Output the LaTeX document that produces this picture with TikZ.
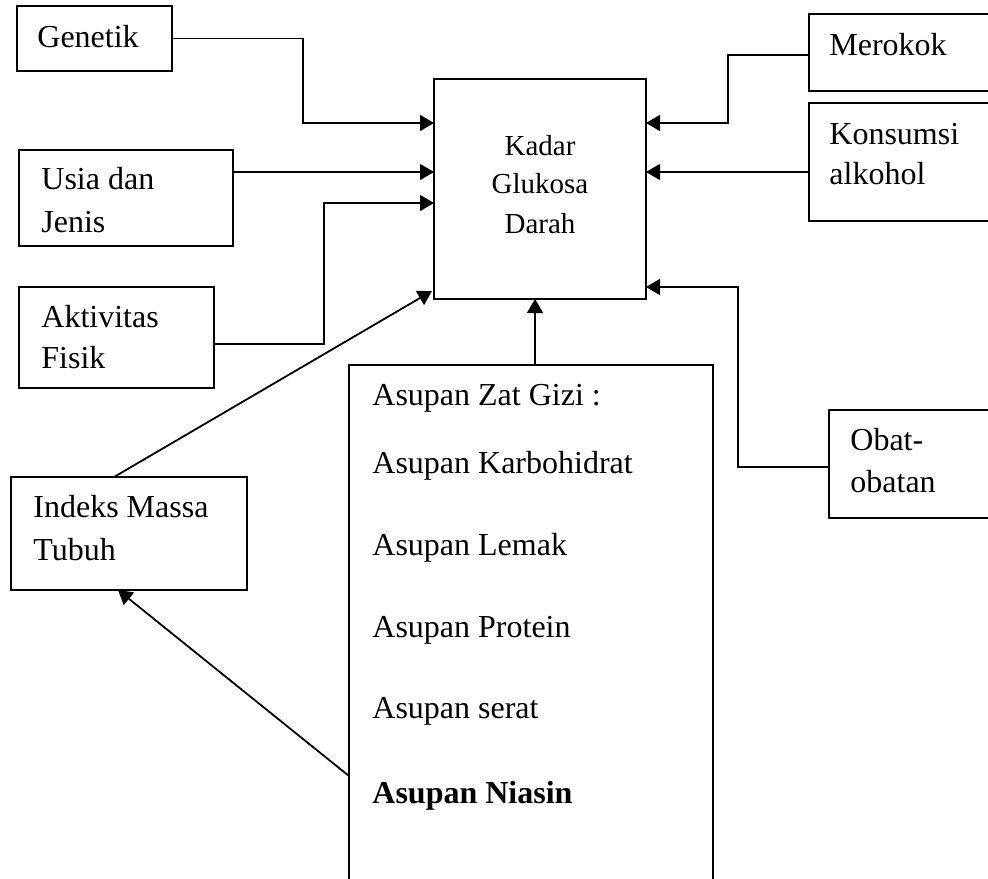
\documentclass[tikz,border=0pt]{standalone}
\usepackage{fontspec}
\setmainfont{Liberation Serif}
\usetikzlibrary{arrows.meta,positioning}
\tikzset{box/.style={draw,line width=0.9pt,inner sep=0pt,outer sep=0pt}}
\tikzset{txt/.style={anchor=base west,inner sep=0pt,font=\fontsize{16}{19}\selectfont}}
\tikzset{arr/.style={line width=0.9pt,-{Triangle[length=7pt,width=8pt]}}}

\begin{document}
\begin{tikzpicture}[x=0.5pt,y=-0.5pt]
\clip (0,0) rectangle (988,878);

% boxes
\node[box,minimum width=77.5pt,minimum height=32.5pt] (genetik) at (94.5,38.5) {};
\node[box,minimum width=107pt,minimum height=48pt] (usia) at (126,198) {};
\node[box,minimum width=97.5pt,minimum height=50.5pt] (aktivitas) at (116.5,337.5) {};
\node[box,minimum width=118pt,minimum height=56.5pt] (imt) at (129,533.5) {};
\node[box,minimum width=106pt,minimum height=110pt] (kadar) at (540,189) {};
\node[box,minimum width=95.5pt,minimum height=38.5pt] (merokok) at (904.5,52.5) {};
\node[box,minimum width=95.5pt,minimum height=59pt] (konsumsi) at (904.5,162) {};
\node[box,minimum width=85.5pt,minimum height=54pt] (obat) at (914.5,464) {};
\node[box,minimum width=182pt,minimum height=267.5pt] (asupan) at (531,632.5) {};

% texts
\node[txt] (tgenetik) at (37,47) {Genetik};
\node[txt] (tusia1) at (41,189) {Usia dan};
\node[txt] (tusia2) at (41,232) {Jenis};
\node[txt] (takt1) at (41,327) {Aktivitas};
\node[txt] (takt2) at (41,368) {Fisik};
\node[txt] (timt1) at (33,517) {Indeks Massa};
\node[txt] (timt2) at (33,560) {Tubuh};
\node[txt] (tmerokok) at (829,55) {Merokok};
\node[txt] (tkons1) at (829,144) {Konsumsi};
\node[txt] (tkons2) at (829,184) {alkohol};
\node[txt] (tobat1) at (850,450) {Obat-};
\node[txt] (tobat2) at (850,492) {obatan};

\node[txt,anchor=base,font=\fontsize{14.5}{17}\selectfont] (tkadar1) at (540,155) {Kadar};
\node[txt,anchor=base,font=\fontsize{14.5}{17}\selectfont] (tkadar2) at (540,193) {Glukosa};
\node[txt,anchor=base,font=\fontsize{14.5}{17}\selectfont] (tkadar3) at (540,233) {Darah};

\foreach \y/\t [count=\i] in {405/Asupan Zat Gizi :,473/Asupan Karbohidrat,555/Asupan Lemak,637/Asupan Protein,718/Asupan serat}
  \node[txt] (tasupan\i) at (372,\y) {\t};
\node[txt,font=\fontsize{16}{19}\selectfont\bfseries] (tniasin) at (372,803) {Asupan Niasin};

% arrows left
\draw[arr] (genetik.east) -| (303,123) -- (kadar.west |- 0,123);
\draw[arr] (usia.east |- 0,172) -- (kadar.west |- 0,172);
\draw[arr] (aktivitas.east |- 0,344) -| (324,203) -- (kadar.west |- 0,203);
\draw[arr] (imt.north -| 114,0) -- (432,291);

% arrows right
\draw[arr] (merokok.west |- 0,55) -| (728,123) -- (kadar.east |- 0,123);
\draw[arr] (konsumsi.west |- 0,172) -- (kadar.east |- 0,172);
\draw[arr] (obat.west |- 0,467) -| (738,287) -- (kadar.east |- 0,287);

% arrows bottom
\draw[arr] (asupan.north -| 535,0) -- (kadar.south -| 535,0);
\draw[arr] (asupan.west |- 0,776) -- (imt.south -| 118,0);

\end{tikzpicture}
\end{document}
